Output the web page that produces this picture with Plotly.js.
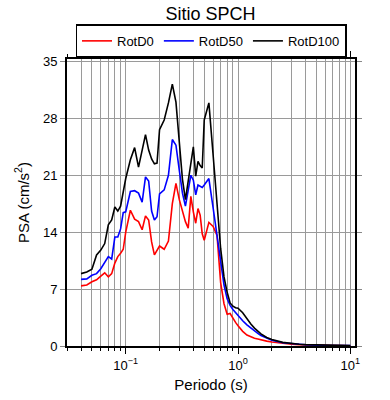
<!DOCTYPE html>
<html>
<head>
<meta charset="utf-8">
<script src="https://cdn.plot.ly/plotly-3.0.1.min.js"></script>
<style>html,body{margin:0;padding:0;background:#fff;}#chart{width:390px;height:400px;}</style>
</head>
<body>
<div id="chart"></div>
<script>
const periods = [0.04,0.045,0.05,0.055,0.06,0.065,0.07,0.075,0.08,0.085,0.09,0.095,
  0.10,0.11,0.12,0.13,0.14,0.15,0.16,0.17,0.18,0.19,0.20,
  0.22,0.24,0.26,0.28,0.30,0.32,0.34,0.36,0.38,0.40,0.42,0.44,0.46,0.48,0.50,
  0.55,0.60,0.65,0.70,0.75,0.80,0.85,0.90,0.95,1.0,
  1.1,1.2,1.3,1.4,1.5,1.6,1.8,2.0,2.5,3.0,3.5,4.0,5.0,6.0,7.0,8.0,9.0,10.0];

const rotD0 = [7.4,7.5,7.9,8.15,8.6,9.0,8.5,8.9,10.2,11.0,11.4,11.9,
  14.0,16.7,15.6,15.3,14.3,16.0,15.5,12.8,11.2,11.8,12.3,
  11.9,12.9,17.5,20.0,18.0,16.5,15.3,14.5,18.4,16.5,15.1,16.9,16.1,13.8,13.0,
  15.2,14.7,13.6,7.8,5.2,3.9,4.0,3.4,2.9,2.5,
  1.8,1.35,1.1,0.95,0.85,0.75,0.6,0.5,0.33,0.22,0.17,0.13,0.09,0.07,0.05,0.045,0.04,0.035];

const rotD50 = [8.2,8.25,8.7,8.9,9.5,10.2,11.0,10.7,13.4,13.4,14.4,16.4,
  16.5,19.0,19.1,18.8,17.7,20.8,20.3,16.6,15.5,15.9,18.7,
  19.2,21.0,25.4,24.7,21.6,18.8,17.2,19.3,21.0,20.4,18.6,19.8,19.6,19.5,19.8,
  20.6,17.0,13.5,10.8,7.5,5.8,5.0,4.5,4.1,3.7,
  3.1,2.6,2.2,1.85,1.55,1.3,0.95,0.7,0.4,0.27,0.2,0.15,0.1,0.08,0.06,0.05,0.045,0.04];

const rotD100 = [8.9,9.1,9.45,11.2,11.8,12.6,14.9,15.5,17.1,16.6,17.2,19.0,
  20.6,22.9,24.4,22.0,24.0,26.0,24.1,23.0,22.4,22.5,26.6,
  27.8,29.9,32.2,30.0,24.5,20.5,18.0,20.2,22.5,24.5,20.9,22.7,22.2,21.9,27.8,
  29.9,23.5,17.5,12.0,8.5,6.6,5.3,4.9,4.7,4.65,
  4.1,3.3,2.7,2.2,1.8,1.5,1.05,0.8,0.45,0.3,0.22,0.17,0.12,0.09,0.07,0.06,0.05,0.045];

const seriesNames = ['RotD0','RotD50','RotD100'];
const seriesColors = ['#ff0000','#0000ff','#000000'];
const xTickVals = [0.1, 1, 10];
const xTickText = ['10<sup>−1</sup>','10<sup>0</sup>','10<sup>1</sup>'];
const yTickVals = [0, 7, 14, 21, 28, 35];

const minorVals = [];
[0.01, 0.1, 1].forEach(d => { for (let k = 2; k <= 9; k++) minorVals.push(+(d * k).toFixed(3)); });

const ys = [rotD0, rotD50, rotD100];
const traces = ys.map((y, i) => ({
  x: periods, y: y, type: 'scatter', mode: 'lines', name: seriesNames[i],
  line: {color: seriesColors[i], width: 1.6}
}));

const font = {family: 'Liberation Sans, Arial, sans-serif', color: '#000'};
const layout = {
  width: 390, height: 400,
  margin: {l: 67, r: 35, t: 59, b: 54},
  paper_bgcolor: '#fff', plot_bgcolor: '#fff',
  font: Object.assign({size: 13}, font),
  title: {text: 'Sitio SPCH', x: 0.54, xanchor: 'center', y: 0.966, yanchor: 'middle',
          font: Object.assign({}, font, {size: 18})},
  showlegend: true,
  legend: {orientation: 'h', x: 0.5, xanchor: 'center', y: 1.063, yanchor: 'middle',
           bordercolor: '#000', borderwidth: 1.5, font: Object.assign({}, font, {size: 13}),
           bgcolor: '#fff', itemwidth: 30, tracegroupgap: 0},
  xaxis: {
    type: 'log', range: [Math.log10(0.03), Math.log10(11)],
    tickmode: 'array', tickvals: xTickVals, ticktext: xTickText,
    ticks: 'outside', ticklen: 6, tickcolor: '#000', tickwidth: 1,
    showline: true, linecolor: '#000', linewidth: 2, mirror: 'allticks',
    showgrid: true, gridcolor: '#9a9a9a', gridwidth: 1,
    zeroline: false,
    minor: {tickmode: 'array', tickvals: minorVals, ticks: 'outside', ticklen: 3,
            tickcolor: '#000', showgrid: true, gridcolor: '#9a9a9a', gridwidth: 1},
    tickfont: Object.assign({}, font, {size: 13}),
    title: {text: 'Periodo (s)', font: Object.assign({}, font, {size: 15}), standoff: 8}
  },
  yaxis: {
    range: [0, 35.3], tickmode: 'array', tickvals: yTickVals,
    ticks: 'outside', ticklen: 5, tickcolor: '#888', tickwidth: 1,
    showline: true, linecolor: '#000', linewidth: 2, mirror: 'allticks',
    showgrid: true, gridcolor: '#9a9a9a', gridwidth: 1, zeroline: false,
    tickfont: Object.assign({}, font, {size: 13}),
    title: {text: 'PSA (cm/s<sup>2</sup>)', font: Object.assign({}, font, {size: 15}), standoff: 10}
  }
};

Plotly.newPlot('chart', traces, layout, {displayModeBar: false, staticPlot: true});
</script>
</body>
</html>
